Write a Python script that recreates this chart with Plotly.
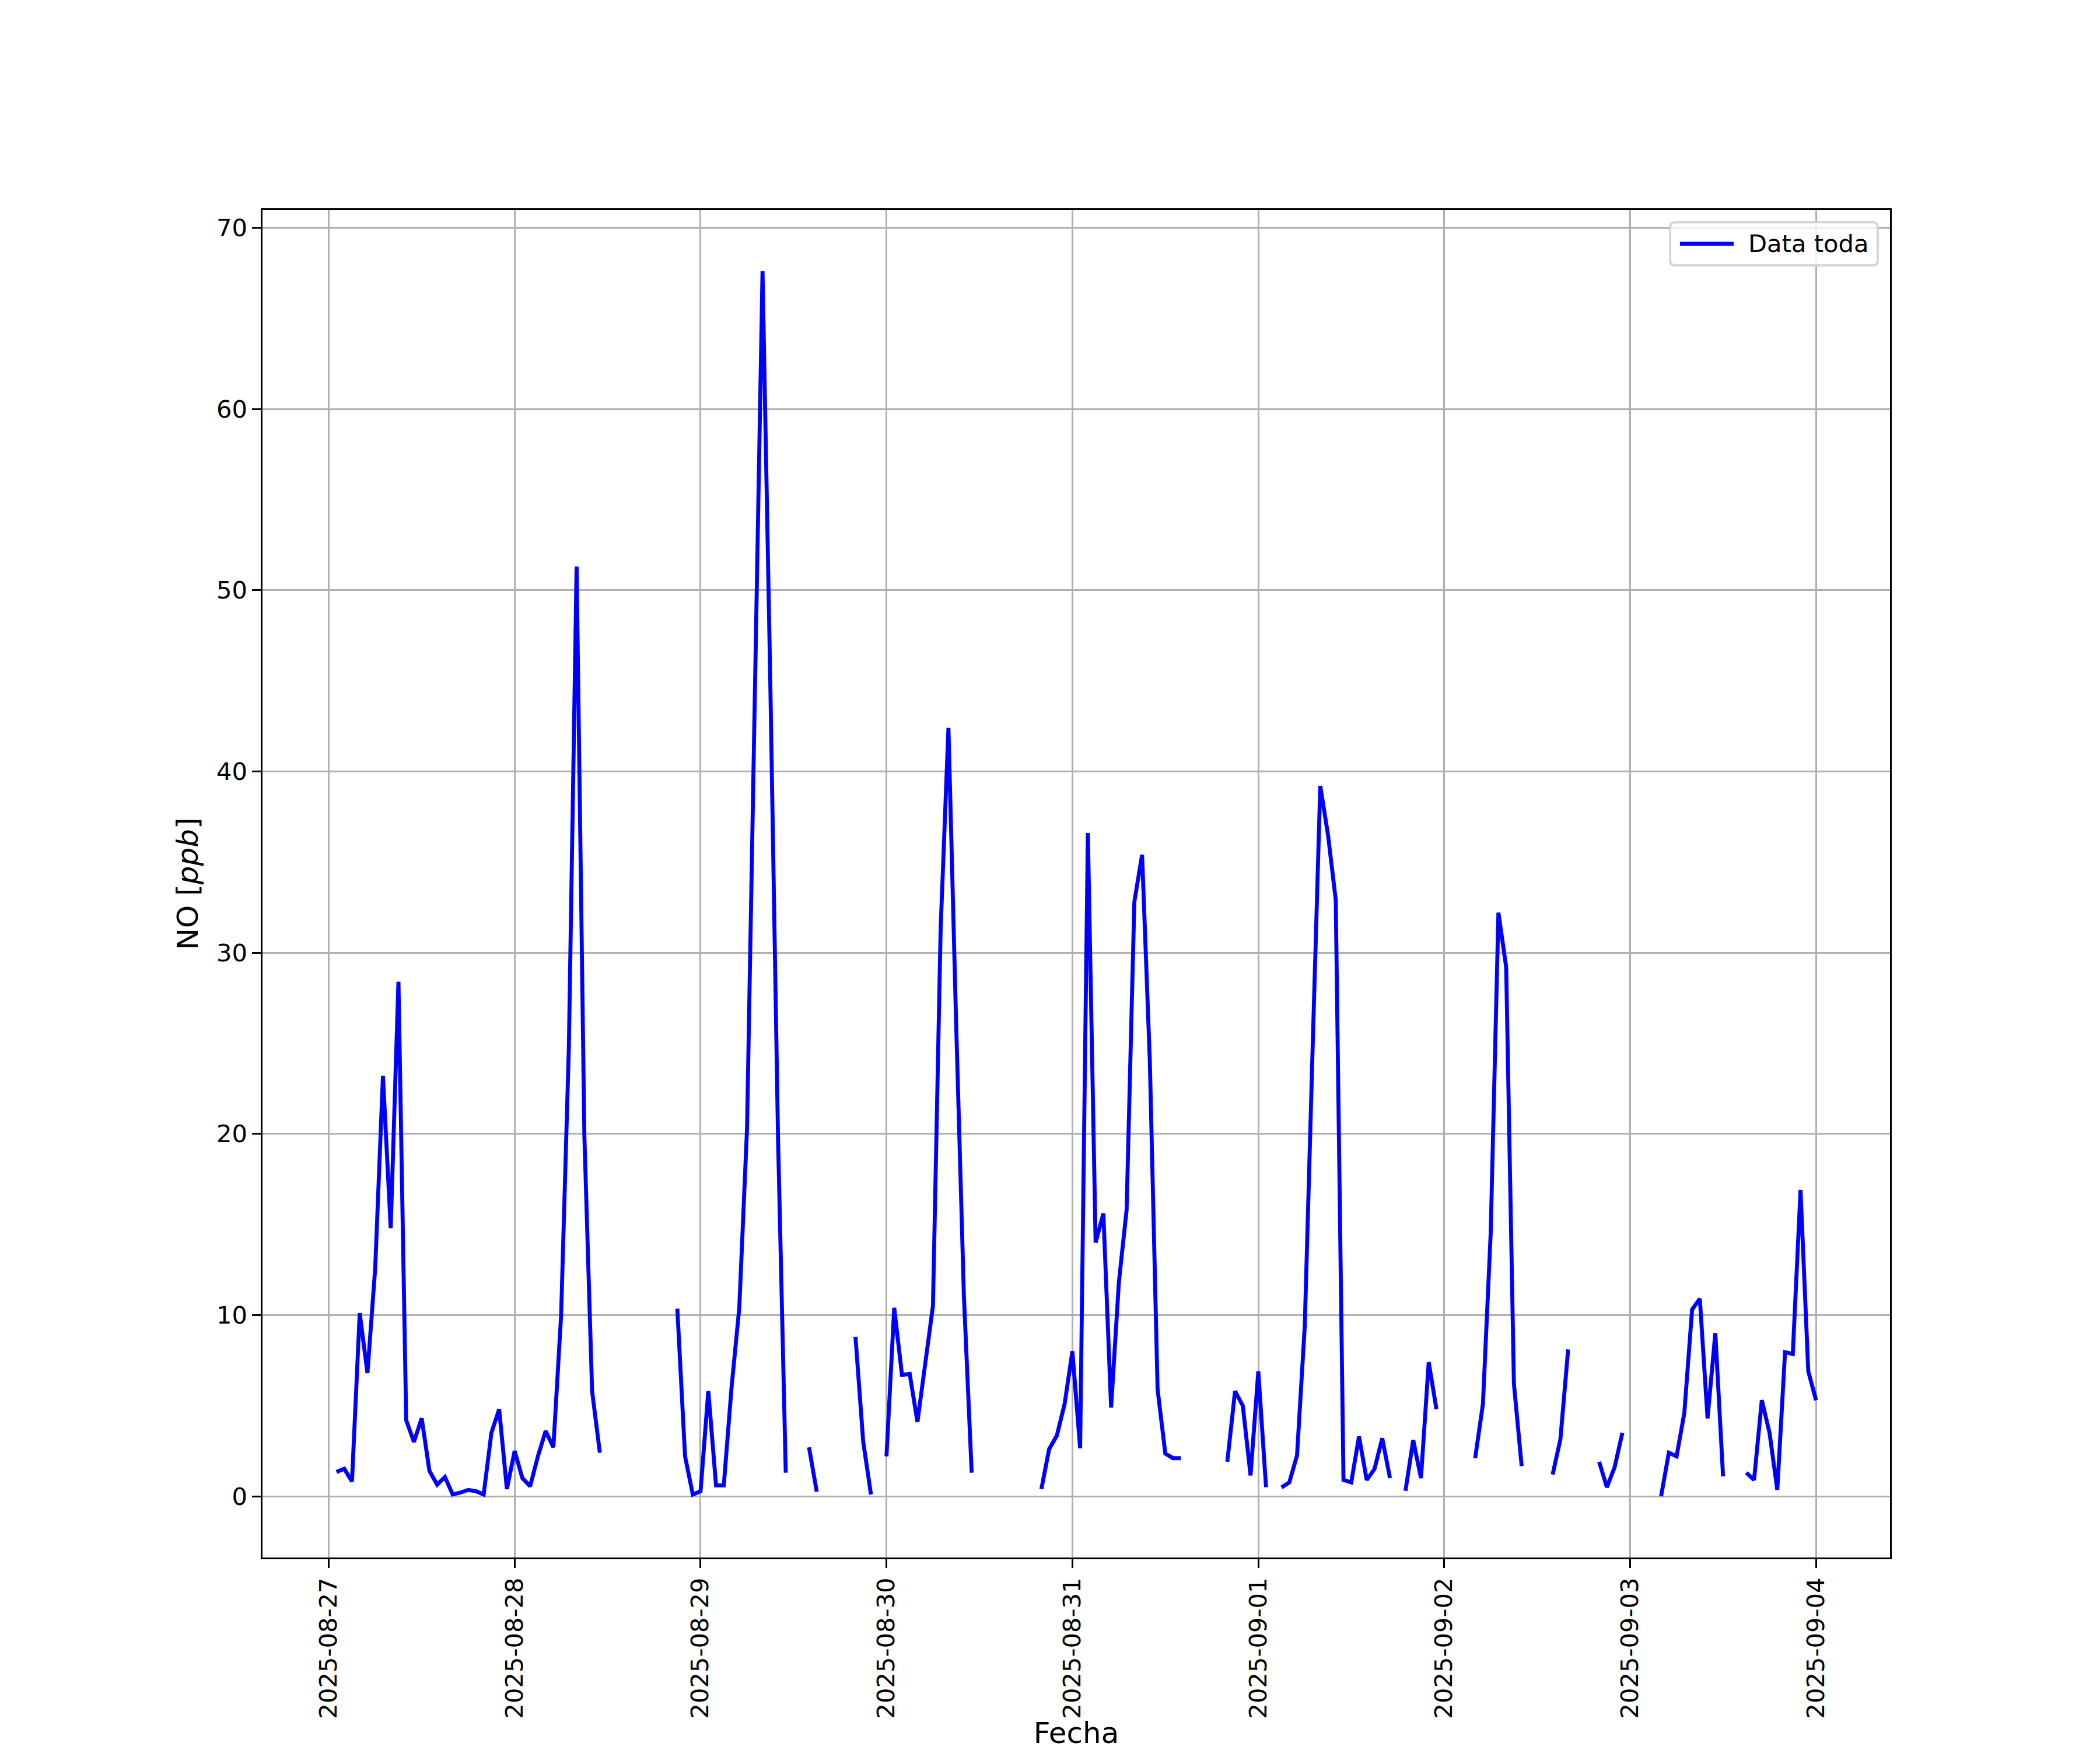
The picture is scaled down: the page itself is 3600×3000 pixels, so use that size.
import datetime as dt
import plotly.graph_objects as go

# ---- data (hourly NO readings, ppb; None = missing) ----
start_time = "2025-08-27 00:00"
no_ppb = [
    None, 1.34, 1.52, 0.81, 10.1, 6.8, 12.6, 23.2, 14.8, 28.4, 4.2, 3.0,
    4.3, 1.4, 0.64, 1.06, 0.1, 0.2, 0.35, 0.28, 0.1, 3.5, 4.8, 0.4,
    2.5, 1.0, 0.55, 2.2, 3.6, 2.7, 10.0, 24.8, 51.3, 19.9, 5.8, 2.4,
    None, None, None, None, None, None, None, None, None, 10.35, 2.2, 0.1,
    0.28, 5.8, 0.6, 0.6, 6.0, 10.4, 20.3, 44.0, 67.6, 45.0, 19.8, 1.3,
    None, None, 2.7, 0.25, None, None, None, None, 8.8, 3.0, 0.1, None,
    2.2, 10.4, 6.7, 6.75, 4.1, 7.5, 10.5, 31.4, 42.4, 26.0, 11.0, 1.3,
    None, None, None, None, None, None, None, None, 0.4, 2.6, 3.35, 5.1,
    8.0, 2.65, 36.6, 14.0, 15.6, 4.9, 11.8, 15.8, 32.8, 35.4, 24.0, 5.9,
    2.35, 2.1, 2.1, None, None, None, None, None, 1.9, 5.8, 5.0, 1.15,
    6.9, 0.5, None, 0.49, 0.76, 2.25, 9.4, 24.5, 39.2, 36.5, 32.9, 0.9,
    0.76, 3.3, 0.9, 1.5, 3.2, 1.0, None, 0.3, 3.1, 1.0, 7.4, 4.8,
    None, None, None, None, 2.1, 5.1, 14.5, 32.2, 29.2, 6.2, 1.66, None,
    None, None, 1.2, 3.15, 8.1, None, None, None, 1.9, 0.5, 1.6, 3.5,
    None, None, None, None, 0.0, 2.4, 2.2, 4.6, 10.3, 10.9, 4.3, 9.0,
    1.1, None, None, 1.3, 0.9, 5.3, 3.5, 0.35, 7.95, 7.85, 16.9, 6.9,
    5.3,
]
series_name = "Data toda"
x_label = "Fecha"
y_label = "NO [<i>ppb</i>]"
y_ticks = [0, 10, 20, 30, 40, 50, 60, 70]

t0 = dt.datetime.strptime(start_time, "%Y-%m-%d %H:%M")
times = [t0 + dt.timedelta(hours=i) for i in range(len(no_ppb))]

# ---- figure geometry (matplotlib-like, 12x10 in @ 300 dpi) ----
W, H = 3600, 3000
PL, PR, PT_, PB = 450, 3240, 360, 2670          # plot area in pixels
L, R, T, B = PL, W - PR, PT_, H - PB
PT = 300 / 72.0
FONT = "DejaVu Sans"

valid_t = [t for t, v in zip(times, no_ppb) if v is not None]
valid_v = [v for v in no_ppb if v is not None]
tmin, tmax = min(valid_t), max(valid_t)
span = tmax - tmin
xr = [tmin - span * 0.05, tmax + span * 0.05]
vmin, vmax = min(valid_v), max(valid_v)
yr = [vmin - (vmax - vmin) * 0.05, vmax + (vmax - vmin) * 0.05]

fig = go.Figure()
fig.add_trace(go.Scatter(
    x=times, y=no_ppb, mode="lines", name=series_name,
    line=dict(color="#0000ff", width=6.8), connectgaps=False,
    showlegend=False,
))

axis_common = dict(
    showgrid=True, gridcolor="#b0b0b0", gridwidth=0.8 * PT,
    showline=True, linecolor="black", linewidth=0.8 * PT, mirror=True,
    ticks="outside", ticklen=3.5 * PT, tickwidth=0.8 * PT, tickcolor="black",
    tickfont=dict(family=FONT, size=10 * PT, color="black"),
    zeroline=False, automargin=False,
)

fig.update_layout(
    width=W, height=H, autosize=False,
    margin=dict(l=L, r=R, t=T, b=B, pad=0),
    paper_bgcolor="white", plot_bgcolor="white",
    font=dict(family=FONT, color="black"),
    showlegend=False,
    xaxis=dict(
        axis_common, type="date", range=xr,
        tick0="2025-08-27", dtick=86400000, tickformat="%Y-%m-%d",
        tickangle=-90,
        title=dict(text=x_label, font=dict(family=FONT, size=12 * PT), standoff=18),
    ),
    yaxis=dict(
        axis_common, range=yr, tickmode="array", tickvals=y_ticks,
        ticktext=[str(v) for v in y_ticks],
        title=dict(text=y_label, font=dict(family=FONT, size=12 * PT), standoff=16),
    ),
)

# ---- matplotlib-style legend (upper right) ----
pw, ph = PR - PL, PB - PT_
def px_x(p):
    return (p - PL) / pw
def px_y(p):
    return (PB - p) / ph

bx0, bx1, by0, by1 = 2863, 3219, 381, 455
r = 9
path = (
    f"M {px_x(bx0 + r)},{px_y(by0)} L {px_x(bx1 - r)},{px_y(by0)} "
    f"Q {px_x(bx1)},{px_y(by0)} {px_x(bx1)},{px_y(by0 + r)} "
    f"L {px_x(bx1)},{px_y(by1 - r)} "
    f"Q {px_x(bx1)},{px_y(by1)} {px_x(bx1 - r)},{px_y(by1)} "
    f"L {px_x(bx0 + r)},{px_y(by1)} "
    f"Q {px_x(bx0)},{px_y(by1)} {px_x(bx0)},{px_y(by1 - r)} "
    f"L {px_x(bx0)},{px_y(by0 + r)} "
    f"Q {px_x(bx0)},{px_y(by0)} {px_x(bx0 + r)},{px_y(by0)} Z"
)
fig.add_shape(type="path", path=path, xref="paper", yref="paper",
              fillcolor="rgba(255,255,255,0.8)",
              line=dict(color="rgba(204,204,204,0.8)", width=1.0 * PT), layer="above")
ly = (by0 + by1) / 2
fig.add_shape(type="line", xref="paper", yref="paper",
              x0=px_x(2880), x1=px_x(2972), y0=px_y(ly), y1=px_y(ly),
              line=dict(color="#0000ff", width=6.8), layer="above")
fig.add_annotation(x=px_x(2995), y=px_y(ly), xref="paper", yref="paper",
                   text=series_name, showarrow=False, xanchor="left", yanchor="middle",
                   font=dict(family=FONT, size=10 * PT, color="black"))

# remove the default 8px body margin so the figure fills the window exactly
fig.write_html("out.html",
               config={"displayModeBar": False},
               post_script="document.body.style.margin='0';document.body.style.overflow='hidden';")
